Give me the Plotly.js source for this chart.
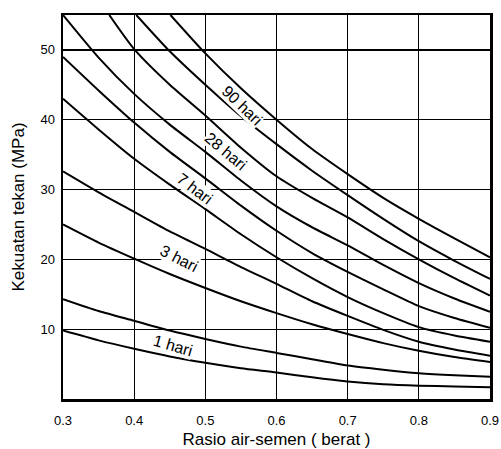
<!DOCTYPE html>
<html>
<head>
<meta charset="utf-8">
<script src="https://cdn.plot.ly/plotly-3.0.1.min.js"></script>
<style>html,body{margin:0;padding:0;background:#fff;}#chart{width:501px;height:449px;}</style>
</head>
<body>
<div id="chart"></div>
<script>
// water-cement ratio grid
var wc = [0.30, 0.35, 0.40, 0.45, 0.50, 0.55, 0.60, 0.65, 0.70, 0.75, 0.80, 0.85, 0.90];

// 1 hari (lower / upper)
var hari1Low  = [9.8, 8.4, 7.2, 6.1, 5.2, 4.4, 3.8, 3.1, 2.5, 2.1, 1.9, 1.8, 1.7];
var hari1High = [14.3, 12.6, 11.2, 9.8, 8.6, 7.5, 6.6, 5.7, 4.8, 4.2, 3.7, 3.4, 3.2];
// 3 hari
var hari3Low  = [25.0, 22.4, 20.1, 17.9, 15.9, 14.0, 12.3, 10.7, 9.3, 8.0, 6.9, 6.0, 5.3];
var hari3High = [32.6, 29.6, 26.8, 24.0, 21.5, 18.9, 16.5, 14.0, 11.9, 9.9, 8.2, 7.1, 6.2];
// 7 hari
var hari7Low  = [43.0, 38.6, 34.4, 30.7, 27.2, 23.6, 20.3, 17.3, 14.6, 12.3, 10.3, 9.1, 8.2];
var hari7High = [49.0, 44.2, 39.6, 35.4, 31.6, 27.7, 24.1, 20.9, 18.2, 15.7, 13.3, 11.6, 10.2];
// 28 hari
var hari28Low  = [55.0, 48.9, 43.7, 39.3, 35.4, 31.3, 27.6, 24.6, 22.0, 19.2, 16.6, 14.4, 12.5];
var wc28High   = [0.365, 0.40, 0.45, 0.50, 0.55, 0.60, 0.65, 0.70, 0.75, 0.80, 0.85, 0.90];
var hari28High = [55.0, 50.1, 45.0, 40.6, 36.0, 31.9, 28.8, 26.0, 22.9, 20.0, 17.3, 14.8];
// 90 hari
var wc90Low   = [0.403, 0.45, 0.50, 0.55, 0.60, 0.65, 0.70, 0.75, 0.80, 0.85, 0.90];
var hari90Low = [55.0, 49.8, 45.0, 40.5, 36.5, 32.7, 29.2, 25.8, 22.6, 19.8, 17.2];
var wc90High   = [0.451, 0.50, 0.55, 0.60, 0.65, 0.70, 0.75, 0.80, 0.85, 0.90];
var hari90High = [55.0, 49.5, 44.5, 40.0, 35.8, 32.2, 28.8, 25.8, 23.0, 20.3];

// curve labels
var labelText = ['1 hari', '3 hari', '7 hari', '28 hari', '90 hari'];
var labelWc   = [0.454, 0.463, 0.485, 0.529, 0.552];
var labelVal  = [7.7, 20.1, 30.2, 35.4, 42.1];
var labelAngle = [16, 27, 37, 40, 44];

var xTicks = [0.3, 0.4, 0.5, 0.6, 0.7, 0.8, 0.9];
var xTickText = ['0.3', '0.4', '0.5', '0.6', '0.7', '0.8', '0.9'];
var yTicks = [10, 20, 30, 40, 50];
var yTickText = ['10', '20', '30', '40', '50'];

var series = [
  [wc, hari1Low], [wc, hari1High],
  [wc, hari3Low], [wc, hari3High],
  [wc, hari7Low], [wc, hari7High],
  [wc, hari28Low], [wc28High, hari28High],
  [wc90Low, hari90Low], [wc90High, hari90High]
];

var traces = series.map(function (s) {
  return {
    x: s[0], y: s[1], type: 'scatter', mode: 'lines',
    line: {color: '#000', width: 2, shape: 'spline', smoothing: 0.6},
    hoverinfo: 'skip', showlegend: false
  };
});

var FONT = 'Liberation Sans, Arial, sans-serif';

var annotations = labelText.map(function (t, i) {
  return {
    x: labelWc[i], y: labelVal[i], xref: 'x', yref: 'y',
    text: t, showarrow: false, textangle: labelAngle[i],
    font: {family: FONT, size: 16, color: '#000'},
    bgcolor: '#fff', borderpad: 0
  };
});

var layout = {
  width: 501, height: 449,
  margin: {l: 63, r: 11, t: 15, b: 50},
  paper_bgcolor: '#fff', plot_bgcolor: '#fff',
  showlegend: false,
  xaxis: {
    range: [0.3, 0.9], tickmode: 'array', tickvals: xTicks, ticktext: xTickText,
    showgrid: true, gridcolor: '#000', gridwidth: 1.3,
    showline: true, mirror: true, linecolor: '#000', linewidth: 2.5,
    zeroline: false, ticks: '', ticklabelstandoff: 8,
    tickfont: {family: FONT, size: 13, color: '#000'},
    title: {text: 'Rasio air-semen ( berat )', font: {family: FONT, size: 17, color: '#000'}, standoff: 14},
    automargin: false, fixedrange: true
  },
  yaxis: {
    range: [0, 55], tickmode: 'array', tickvals: yTicks, ticktext: yTickText,
    showgrid: true, gridcolor: '#000', gridwidth: 1.3,
    showline: true, mirror: true, linecolor: '#000', linewidth: 2.5,
    zeroline: false, ticks: '', ticklabelstandoff: 3,
    tickfont: {family: FONT, size: 13, color: '#000'},
    title: {text: 'Kekuatan tekan (MPa)', font: {family: FONT, size: 17, color: '#000'}, standoff: 12},
    automargin: false, fixedrange: true
  },
  annotations: annotations
};

Plotly.newPlot('chart', traces, layout, {staticPlot: true, displayModeBar: false});
</script>
</body>
</html>
